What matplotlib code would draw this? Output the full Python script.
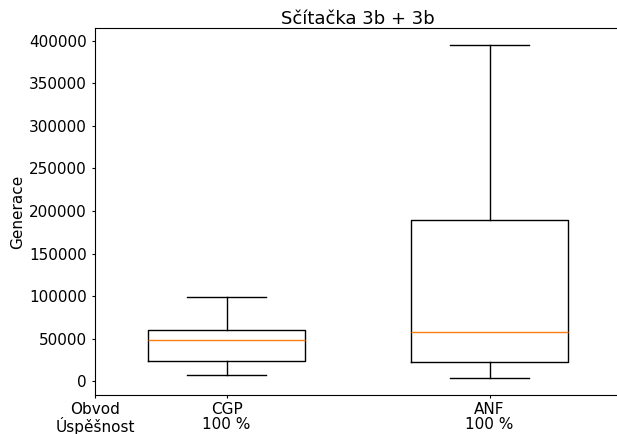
import numpy as np
import matplotlib
matplotlib.use("Agg")
import matplotlib.pyplot as plt

names = ["CGP", "ANF"]
success = ["100 %", "100 %"]
whislo = [7000, 3500]
q1 = [23500, 22400]
med = [48200, 57600]
q3 = [60000, 189400]
whishi = [98800, 395300]

stats = []
for i in range(len(names)):
    stats.append({"label": names[i], "whislo": whislo[i], "q1": q1[i],
                  "med": med[i], "q3": q3[i], "whishi": whishi[i], "fliers": []})

fig = plt.figure(figsize=(6.17, 4.34), dpi=100)
ax = fig.add_axes([95 / 617, 1 - 395 / 434, 526 / 617, 367 / 434])
ax.bxp(stats, positions=[1, 2], widths=0.6, showfliers=False)

ax.set_xlim(0.5, 2.5)
ax.set_xticks([0.5, 1, 2])
ax.set_xticklabels(["Obvod\nÚspěšnost"] + [n + "\n" + s for n, s in zip(names, success)],
                   fontsize=11, linespacing=1.0)
ax.tick_params(axis="x", length=2.2, pad=2.5)
ax.tick_params(axis="y", labelsize=11, length=2.2, pad=3.5)
ax.set_ylabel("Generace", fontsize=11, labelpad=3)
ax.set_title("Sčítačka 3b + 3b", fontsize=13, pad=3)

fig.savefig("out.png", dpi=100)
